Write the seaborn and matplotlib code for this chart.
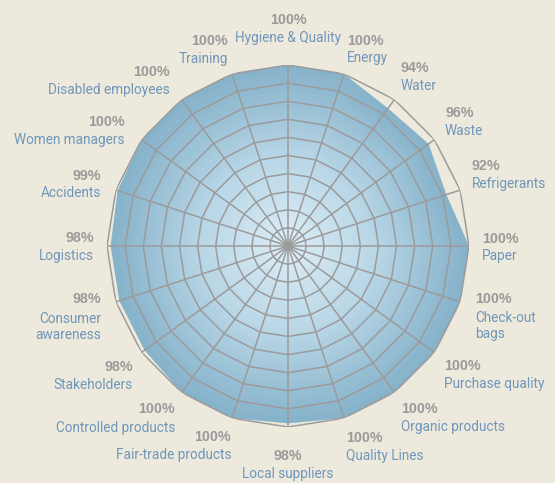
import numpy as np
import matplotlib
matplotlib.use("Agg")
import matplotlib.pyplot as plt
import seaborn as sns
from matplotlib.colors import LinearSegmentedColormap

# ---- data ----
categories = ["Hygiene & Quality", "Energy", "Water", "Waste", "Refrigerants", "Paper",
              "Check-out\nbags", "Purchase quality", "Organic products", "Quality Lines",
              "Local suppliers", "Fair-trade products", "Controlled products", "Stakeholders",
              "Consumer\nawareness", "Logistics", "Accidents", "Women managers",
              "Disabled employees", "Training"]
values = [100, 100, 94, 96, 92, 100, 100, 100, 100, 100,
          98, 100, 100, 98, 98, 98, 99, 100, 100, 100]
pct_labels = [f"{v}%" for v in values]
ring_levels = [10, 20, 30, 40, 50, 60, 70, 80, 90, 100]

# ---- layout (pixel positions of label blocks): ha, x, y_pct, y_name ----
label_layout = [
    ("center", 288, 20, 38), ("left", 347, 41, 58), ("left", 401, 68, 86),
    ("left", 445, 113, 131), ("left", 472, 166, 184), ("left", 482, 239, 256),
    ("left", 475, 299, 326), ("left", 444, 366, 384), ("left", 401, 409, 427),
    ("left", 346, 438, 456), ("center", 288, 456, 474), ("right", 231, 437, 455),
    ("right", 175, 409, 428), ("right", 133, 367, 385), ("right", 101, 299, 327),
    ("right", 94, 238, 256), ("right", 101, 176, 193), ("right", 125, 122, 140),
    ("right", 170, 72, 90), ("right", 228, 41, 59),
]

W, H = 555, 483
BG = "#edeadd"
GRID = "#9b9b9b"
NAME_C = "#7096ba"
PCT_C = "#9a9a9a"

sns.set_theme(style="white")
plt.rcParams["font.family"] = ["Roboto", "DejaVu Sans"]

fig = plt.figure(figsize=(W / 100, H / 100), dpi=100, facecolor=BG)
cx, cy, R = 288, 246, 181
ax = fig.add_axes([(cx - R) / W, (H - cy - R) / H, 2 * R / W, 2 * R / H],
                  projection="polar")
ax.set_theta_zero_location("N")
ax.set_theta_direction(-1)
ax.set_ylim(0, 100)
ax.axis("off")

n = len(categories)
theta = np.deg2rad(np.arange(n) * 360.0 / n)
th_c = np.append(theta, theta[0])
v_c = np.append(values, values[0]).astype(float)

# gradient fill (radial, from light center to blue edge)
cmap = LinearSegmentedColormap.from_list("g", ["#deeef7", "#b8d6e6", "#86b2ca"])
steps = 80
for k in range(steps, 0, -1):
    s = k / steps
    ax.fill(th_c, v_c * s, color=cmap(s), lw=0, zorder=1)

# grid rings & spokes
for lev in ring_levels:
    sns.lineplot(x=th_c, y=np.full_like(th_c, lev), sort=False, ax=ax,
                 color=GRID, lw=1.1, zorder=3, estimator=None)
for t in theta:
    ax.plot([t, t], [0, 100], color=GRID, lw=1.1, zorder=3)
ax.scatter([0], [0], s=40, color=GRID, zorder=4, linewidths=0)

# labels
for (ha, x, yp, yn), name, pct in zip(label_layout, categories, pct_labels):
    fig.text(x / W, 1 - yp / H, pct, ha=ha, va="center", color=PCT_C,
             fontsize=10.3, fontweight="bold", family=["Liberation Sans", "DejaVu Sans"])
    fig.text(x / W, 1 - yn / H, name, ha=ha, va="center", color=NAME_C,
             fontsize=9.8, linespacing=1.15)

fig.savefig("out.png", dpi=100, facecolor=BG)
